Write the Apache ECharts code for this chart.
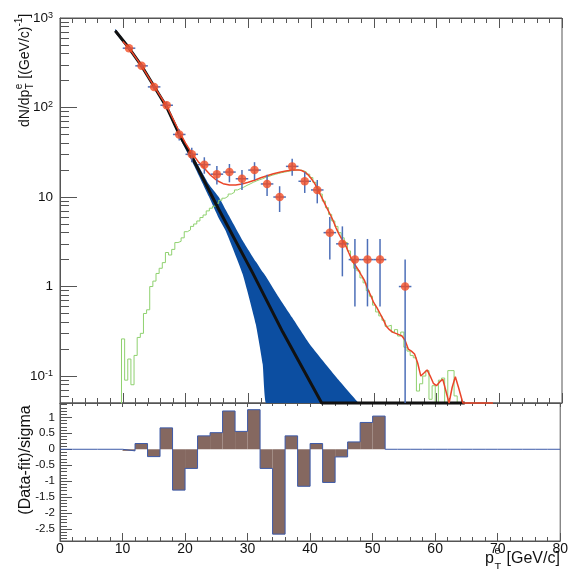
<!DOCTYPE html>
<html><head><meta charset="utf-8">
<script src="https://cdn.jsdelivr.net/npm/echarts@6/dist/echarts.min.js"></script>
<style>html,body{margin:0;padding:0;background:#fff}#c{width:571px;height:569px}</style>
</head><body><div id="c"></div>
<script>
// ---------- data ----------
const dataX   = [11, 13, 15, 17, 19, 21, 23, 25, 27, 29, 31, 33, 35, 37, 39, 41, 43, 45, 47, 49, 51, 55];
const dataY   = [460, 292, 170, 106, 50, 30, 23, 18, 19, 16, 20, 14, 10, 22, 15, 12, 4, 3, 2, 2, 2, 1];
const dataErr = [21.4, 17.1, 13.0, 10.3, 7.1, 5.5, 4.8, 4.2, 4.4, 4.0, 4.5, 3.7, 3.2, 4.7, 3.9, 3.5, 2.0, 1.7, 1.4, 1.4, 1.4, 1.0];
const dataXHalfWidth = 1;

// background fit (black line)
const bgX = [8.8, 11, 13, 15, 17, 19.2, 21.1, 25.25, 30.7, 35.5, 41.7, 64.5];
const bgY = [720, 462, 292, 172, 101, 47, 27.5, 7.4, 1.42, 0.31, 0.05, 0.05];

// background uncertainty band
const bandX  = [8.8, 11, 13, 15, 17, 19.2, 21.1, 23.7, 25.3, 26.4, 29.1, 31.2, 32.3, 32.8, 34.5, 37, 39.8, 44.1, 47.6];
const bandLo = [690, 444, 281, 165, 96, 44, 24.5, 10.2, 5.8, 4.2, 1.38, 0.38, 0.136, 0.05, 0.05, 0.05, 0.05, 0.05, 0.05];
const bandHi = [752, 478, 301, 179, 105, 50, 29.5, 14, 10, 7.2, 3.27, 1.9, 1.45, 1.3, 0.83, 0.45, 0.227, 0.096, 0.05];

// total fit (red line)
const fitX = [10, 11, 13, 15, 17, 19, 20, 21, 22, 23, 24, 25, 26, 27, 28, 29, 30, 31, 32, 33, 34, 35, 36, 37, 38, 38.5, 39, 39.5, 40, 40.5, 41, 41.5, 42, 42.5, 43, 43.5, 44, 44.5, 45, 45.5, 46, 46.5, 47, 47.5, 48, 48.5, 49, 49.5, 50, 50.5, 51, 51.5, 52, 52.5, 53, 53.5, 54, 54.5, 55, 55.5, 56, 56.5, 57, 57.5, 58, 58.5, 59, 59.5, 60, 60.5, 61, 61.5, 62, 62.5, 63, 63.5, 64.2, 69];
const fitY = [545, 462, 292, 172, 104, 54, 40, 31, 25, 21, 17.5, 15.3, 14.1, 13.6, 13.6, 14, 14.6, 15.4, 16.4, 17.3, 18.2, 18.9, 19.5, 20, 20.1, 19.8, 19, 17.8, 16.2, 14.5, 12.6, 10.6, 9, 7.6, 6.5, 5.5, 4.5, 3.8, 3.3, 2.9, 2.4, 2.0, 1.75, 1.55, 1.35, 1.18, 0.95, 0.8, 0.66, 0.58, 0.5, 0.43, 0.36, 0.33, 0.31, 0.3, 0.29, 0.28, 0.25, 0.2, 0.19, 0.176, 0.14, 0.1, 0.108, 0.117, 0.1, 0.083, 0.078, 0.086, 0.092, 0.068, 0.05, 0.075, 0.098, 0.075, 0.05, 0.05];

// signal template histogram (green)
const tmplStart = 9.8;
const tmplWidth = 0.5;
const tmplY = [0.26, 0.09, 0.155, 0.08, 0.17, 0.27, 0.30, 0.5, 0.55, 1.0, 1.15, 1.4, 1.6, 1.85, 2.4, 2.25, 2.6, 3.1, 3.2, 3.5,
  4.1, 4.3, 4.7, 5.0, 5.4, 5.9, 6.3, 7.0, 7.5, 7.9, 8.5, 9.2, 9.7, 10.2, 10.8, 11.3, 12.0, 12.5, 12.9, 13.5,
  14.0, 14.6, 15.1, 15.6, 16.0, 16.6, 17.0, 17.5, 17.9, 18.3, 18.7, 19.0, 19.3, 19.6, 19.8, 20.1, 20.0, 19.7, 19.0, 18.0,
  16.5, 14.6, 12.6, 10.8, 9.0, 7.6, 6.4, 5.4, 4.7, 4.0, 3.5, 3.1, 2.5, 1.95, 1.6, 1.5, 1.25, 1.1, 0.9, 0.78,
  0.62, 0.52, 0.47, 0.42, 0.36, 0.37, 0.31, 0.33, 0.28, 0.31, 0.21, 0.19, 0.17, 0.16, 0.068, 0.082, 0.1, 0.115, 0.055, 0.078,
  0.03, 0.09, 0.095, 0.03, 0.115, 0.115, 0.06, 0.03];

// residuals (lower panel), bins of 2 GeV from 0 to 80
const residStart = 0;
const residWidth = 2;
const residY = [0, 0, 0, 0, 0,
  -0.05, 0.18, -0.23, 0.67, -1.28, -0.60, 0.42, 0.52, 1.20, 0.56, 1.24, -0.60, -2.66, 0.42, -1.16, 0.18, -1.04, -0.24, 0.23, 0.84, 1.04,
  0, 0, 0, 0, 0, 0, 0, 0, 0, 0, 0, 0, 0, 0];

// axis ranges and ticks
const Y_MIN = 0.05, Y_MAX = 1000;
const R_MIN = -2.875, R_MAX = 1.45;
const logMajor = [0.1, 1, 10, 100, 1000];
const residMajor = [-2.5, -2, -1.5, -1, -0.5, 0, 0.5, 1];

// ---------- build ----------
const FONT = '"Liberation Sans", Arial, Helvetica, sans-serif';
const TXT = '#111';
const logMinor = [];
for (let e = -2; e <= 2; e++) for (let m = 2; m <= 9; m++) {
  const v = Number((m * Math.pow(10, e)).toPrecision(3));
  if (v > Y_MIN && v < Y_MAX) logMinor.push(v);
}
const residMinor = [];
for (let k = -28; k <= 14; k++) residMinor.push(k / 10);

const tmplPts = [[tmplStart, 0.005]];
tmplY.forEach((v, i) => { const lo = tmplStart + i * tmplWidth; tmplPts.push([lo, v], [lo + tmplWidth, v]); });
tmplPts.push([tmplStart + tmplY.length * tmplWidth, 0.005]);

const residPts = [];
residY.forEach((v, i) => { const lo = residStart + i * residWidth; residPts.push([lo, v], [lo + residWidth, v]); });

const cv = document.createElement('canvas').getContext('2d');
function tw(t, s) { cv.font = s + 'px ' + FONT; return cv.measureText(t).width; }
function txt(text, x, y, size, extra) {
  return Object.assign({ type: 'text', x: x, y: y, style: { text: text, font: size + 'px ' + FONT, fill: TXT, align: 'left', verticalAlign: 'middle', textAlign: 'left', textVerticalAlign: 'middle' } }, extra || {});
}

// y title (upper)
const s1 = 14, s2 = 10;
const w1 = tw('dN/dp', s1);
const w2 = Math.max(tw('e', s2), tw('T', s2));
const w3 = tw(' [(GeV/c)', s1);
const w4 = tw('-1', s2);
const yTitle = {
  type: 'group', x: 25, y: 127, rotation: Math.PI / 2,
  children: [
    txt('dN/dp', 0, 0, s1),
    txt('e', w1 + 0.5, -6, s2),
    txt('T', w1 + 0.5, 5, s2),
    txt(' [(GeV/c)', w1 + w2 + 1, 0, s1),
    txt('-1', w1 + w2 + 1 + w3, -6, s2),
    txt(']', w1 + w2 + 1 + w3 + w4, 0, s1)
  ]
};
const rTitle = {
  type: 'text', x: 26, y: 460, rotation: Math.PI / 2,
  style: { text: '(Data-fit)/sigma', font: '16px ' + FONT, fill: TXT, align: 'center', verticalAlign: 'middle', textAlign: 'center', textVerticalAlign: 'middle' }
};
const pw = tw('p', 16);
const xTitle = {
  type: 'group', x: 485, y: 559,
  children: [
    txt('p', 0, 0, 16),
    txt('e', pw + 0.5, -8, 11),
    txt('T', pw + 0.5, 9, 11),
    txt('[GeV/c]', 21.5, 0, 16)
  ]
};

function xAx(grid, pos, showLabel, tickLen, minorLen) {
  return {
    type: 'value', gridIndex: grid, position: pos, min: 0, max: 80, interval: 10,
    axisLine: { show: true, onZero: false, lineStyle: { color: '#555', width: 1 } },
    axisTick: { show: true, inside: true, length: tickLen, lineStyle: { color: '#555' } },
    minorTick: { show: true, splitNumber: 5, length: minorLen, lineStyle: { color: '#555' } },
    axisLabel: { show: showLabel, margin: 1, fontSize: 14, color: TXT, fontFamily: FONT },
    splitLine: { show: false }, minorSplitLine: { show: false }
  };
}

const option = {
  animation: false,
  backgroundColor: '#fff',
  grid: [
    { left: 60, top: 18, width: 502, height: 385, show: true, borderColor: '#555', borderWidth: 1, backgroundColor: 'transparent' },
    { left: 60, top: 403, width: 502, height: 138, show: true, borderColor: '#555', borderWidth: 1, backgroundColor: 'transparent' }
  ],
  xAxis: [
    xAx(0, 'bottom', false, 10, 5),
    xAx(0, 'top', false, 10, 5),
    xAx(1, 'bottom', true, 8, 4),
    xAx(1, 'top', false, 4, 3)
  ],
  yAxis: [
    {
      type: 'log', logBase: 10, gridIndex: 0, position: 'left', min: Y_MIN, max: Y_MAX,
      axisLine: { show: true, onZero: false, lineStyle: { color: '#555' } },
      axisTick: { show: true, inside: true, length: 17, customValues: logMajor, lineStyle: { color: '#555' } },
      axisLabel: {
        show: true, customValues: logMajor, margin: 7, fontSize: 13.5, color: TXT, fontFamily: FONT,
        formatter: function (v) {
          const e = Math.round(Math.log10(v));
          if (e === 1) return '10';
          if (e === 0) return '1';
          return '10{s|' + e + '}';
        },
        rich: { s: { fontSize: 9, fontFamily: FONT, color: TXT, verticalAlign: 'top' } }
      },
      splitLine: { show: false }
    },
    {
      type: 'log', logBase: 10, gridIndex: 0, position: 'left', min: Y_MIN, max: Y_MAX,
      axisLine: { show: false },
      axisTick: { show: true, inside: true, length: 9, customValues: logMinor, lineStyle: { color: '#555' } },
      axisLabel: { show: false },
      splitLine: { show: false }
    },
    {
      type: 'value', gridIndex: 1, position: 'left', min: R_MIN, max: R_MAX,
      axisLine: { show: true, onZero: false, lineStyle: { color: '#555' } },
      axisTick: { show: true, inside: true, length: 12, customValues: residMajor, lineStyle: { color: '#555' } },
      axisLabel: { show: true, customValues: residMajor, margin: 5, fontSize: 11.5, color: TXT, fontFamily: FONT, formatter: v => String(v) },
      splitLine: { show: false }
    },
    {
      type: 'value', gridIndex: 1, position: 'left', min: R_MIN, max: R_MAX,
      axisLine: { show: false },
      axisTick: { show: true, inside: true, length: 7, customValues: residMinor, lineStyle: { color: '#555' } },
      axisLabel: { show: false },
      splitLine: { show: false }
    }
  ],
  series: [
    {
      type: 'custom', name: 'band', xAxisIndex: 0, yAxisIndex: 0, z: 1, silent: true, clip: true,
      data: bandX.map((x, i) => [x, bandLo[i], bandHi[i]]),
      encode: { x: 0, y: [1, 2] },
      renderItem: function (params, api) {
        if (params.dataIndex !== 0) return null;
        const pts = [];
        for (let i = 0; i < bandX.length; i++) pts.push(api.coord([bandX[i], bandHi[i]]));
        for (let i = bandX.length - 1; i >= 0; i--) pts.push(api.coord([bandX[i], bandLo[i]]));
        return { type: 'polygon', shape: { points: pts, smooth: 0.15 }, style: { fill: '#0c4ea1' } };
      }
    },
    {
      type: 'line', name: 'template', xAxisIndex: 0, yAxisIndex: 0, z: 2, data: tmplPts,
      showSymbol: false, symbol: 'none', clip: true,
      lineStyle: { color: '#8fd16f', width: 1 }
    },
    {
      type: 'line', name: 'background', xAxisIndex: 0, yAxisIndex: 0, z: 3,
      data: bgX.map((x, i) => [x, bgY[i]]), symbol: 'none', clip: false,
      lineStyle: { color: '#111', width: 3 }
    },
    {
      type: 'line', name: 'fit', xAxisIndex: 0, yAxisIndex: 0, z: 4,
      data: fitX.map((x, i) => [x, fitY[i]]), symbol: 'none', clip: false,
      lineStyle: { color: '#ea4529', width: 1.5 }
    },
    {
      type: 'custom', name: 'errors', xAxisIndex: 0, yAxisIndex: 0, z: 5, silent: true,
      data: dataX.map((x, i) => [x, dataY[i], dataErr[i]]),
      encode: { x: 0, y: 1 },
      renderItem: function (params, api) {
        const x = api.value(0), y = api.value(1), e = api.value(2);
        const lo = Math.max(y - e, Y_MIN);
        const t = api.coord([x, y + e]), b = api.coord([x, lo]);
        const l = api.coord([x - dataXHalfWidth, y]), r = api.coord([x + dataXHalfWidth, y]);
        const st = { stroke: '#4d6fb8', lineWidth: 1.5 };
        return {
          type: 'group', children: [
            { type: 'line', shape: { x1: t[0], y1: t[1], x2: b[0], y2: b[1] }, style: st },
            { type: 'line', shape: { x1: l[0], y1: l[1], x2: r[0], y2: r[1] }, style: st }
          ]
        };
      }
    },
    {
      type: 'scatter', name: 'data', xAxisIndex: 0, yAxisIndex: 0, z: 6,
      data: dataX.map((x, i) => [x, dataY[i]]), symbol: 'circle', symbolSize: 8.5,
      itemStyle: { color: '#f24d25' }
    },
    {
      type: 'custom', name: 'residBars', xAxisIndex: 2, yAxisIndex: 2, z: 2, silent: true,
      data: residY.map((v, i) => [residStart + i * residWidth, v]),
      encode: { x: 0, y: 1 },
      renderItem: function (params, api) {
        const lo = api.value(0), v = api.value(1);
        if (v === 0) return null;
        const a = api.coord([lo, v]), b = api.coord([lo + residWidth, 0]);
        return {
          type: 'rect',
          shape: { x: Math.min(a[0], b[0]), y: Math.min(a[1], b[1]), width: Math.abs(b[0] - a[0]), height: Math.abs(b[1] - a[1]) },
          style: { fill: '#856860' }
        };
      }
    },
    {
      type: 'line', name: 'residLine', xAxisIndex: 2, yAxisIndex: 2, z: 3,
      data: residPts, symbol: 'none', lineStyle: { color: '#3d5aa8', width: 1 }
    }
  ],
  graphic: [yTitle, rTitle, xTitle]
};

const chart = echarts.init(document.getElementById('c'), null, { renderer: 'canvas' });
chart.setOption(option);
</script>
</body></html>
